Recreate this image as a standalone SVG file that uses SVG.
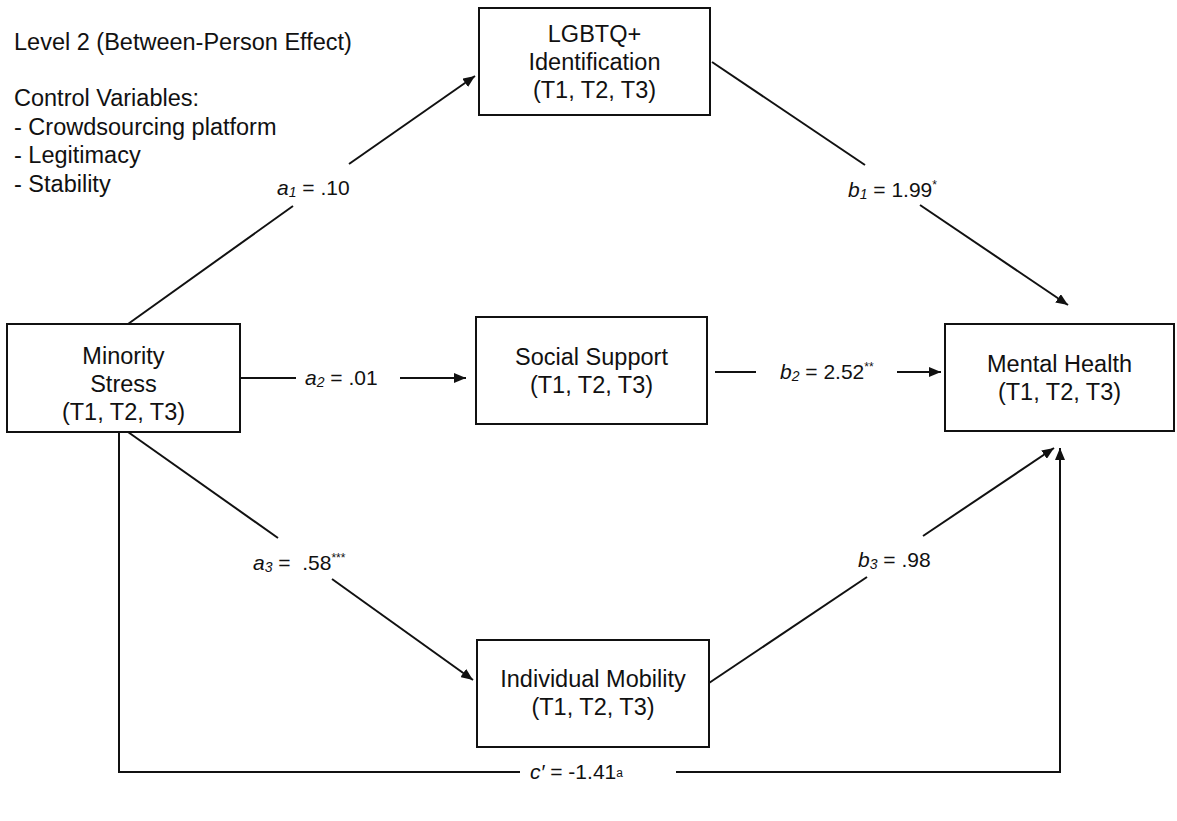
<svg xmlns="http://www.w3.org/2000/svg" width="1177" height="821" viewBox="0 0 1177 821">
  <style>
    .box { fill: #ffffff; stroke: #111111; stroke-width: 2; }
    .node { font-family: "Liberation Sans", Arial, Helvetica, sans-serif; font-size: 23.5px; fill: #111111; text-anchor: middle; }
    .note { font-family: "Liberation Sans", Arial, Helvetica, sans-serif; font-size: 23.5px; fill: #111111; }
    .lbl { font-family: "Liberation Sans", Arial, Helvetica, sans-serif; font-size: 21px; fill: #111111; }
    .it { font-style: italic; }
    .sub { font-style: italic; font-size: 14px; }
    .sup { font-size: 12px; }
    .edge { fill: none; stroke: #111111; stroke-width: 2; }
  </style>
  <defs>
    <marker id="arrow" viewBox="0 0 12 10" refX="12" refY="5" markerWidth="12" markerHeight="10" markerUnits="userSpaceOnUse" orient="auto">
      <path d="M0,0 L12,5 L0,10 z" fill="#111111"/>
    </marker>
  </defs>

  <rect width="1177" height="821" fill="#ffffff"/>

  <!-- Model notes -->
  <g id="notes">
    <text class="note" x="14" y="50">Level 2 (Between-Person Effect)</text>
    <text class="note" x="14" y="106">Control Variables:</text>
    <text class="note" x="14" y="135">- Crowdsourcing platform</text>
    <text class="note" x="14" y="163">- Legitimacy</text>
    <text class="note" x="14" y="192">- Stability</text>
  </g>

  <!-- Paths with coefficients -->
  <g id="connectors">
    <!-- a1: Minority Stress -> LGBTQ+ Identification -->
    <line class="edge" x1="128" y1="324" x2="293" y2="206"/>
    <line class="edge" x1="349" y1="164" x2="475" y2="76" marker-end="url(#arrow)"/>
    <text class="lbl" x="277" y="195"><tspan class="it">a</tspan><tspan class="sub" dy="2">1</tspan><tspan dy="-2"> = .10</tspan></text>

    <!-- b1: LGBTQ+ Identification -> Mental Health -->
    <line class="edge" x1="712" y1="62" x2="865" y2="165"/>
    <line class="edge" x1="920" y1="205" x2="1068" y2="305" marker-end="url(#arrow)"/>
    <text class="lbl" x="848" y="197"><tspan class="it">b</tspan><tspan class="sub" dy="2">1</tspan><tspan dy="-2"> = 1.99</tspan><tspan class="sup" dy="-8">*</tspan></text>

    <!-- a2: Minority Stress -> Social Support -->
    <line class="edge" x1="240" y1="378" x2="296" y2="378"/>
    <line class="edge" x1="400" y1="378" x2="466" y2="378" marker-end="url(#arrow)"/>
    <text class="lbl" x="305" y="385"><tspan class="it">a</tspan><tspan class="sub" dy="2">2</tspan><tspan dy="-2"> = .01</tspan></text>

    <!-- b2: Social Support -> Mental Health -->
    <line class="edge" x1="715" y1="372" x2="756" y2="372"/>
    <line class="edge" x1="897" y1="372" x2="941" y2="372" marker-end="url(#arrow)"/>
    <text class="lbl" x="780" y="379"><tspan class="it">b</tspan><tspan class="sub" dy="2">2</tspan><tspan dy="-2"> = 2.52</tspan><tspan class="sup" dy="-8">**</tspan></text>

    <!-- a3: Minority Stress -> Individual Mobility -->
    <line class="edge" x1="128" y1="432" x2="278" y2="538"/>
    <line class="edge" x1="332" y1="579" x2="473" y2="680" marker-end="url(#arrow)"/>
    <text class="lbl" x="253" y="570"><tspan class="it">a</tspan><tspan class="sub" dy="2">3</tspan><tspan dy="-2"> = &#160;.58</tspan><tspan class="sup" dy="-8">***</tspan></text>

    <!-- b3: Individual Mobility -> Mental Health -->
    <line class="edge" x1="709" y1="683" x2="867" y2="577"/>
    <line class="edge" x1="923" y1="536" x2="1054" y2="448" marker-end="url(#arrow)"/>
    <text class="lbl" x="858" y="567"><tspan class="it">b</tspan><tspan class="sub" dy="2">3</tspan><tspan dy="-2"> = .98</tspan></text>

    <!-- c': direct effect -->
    <polyline class="edge" points="119,432 119,772 520,772"/>
    <polyline class="edge" points="676,772 1060,772 1060,448" marker-end="url(#arrow)"/>
    <text class="lbl" x="530" y="779"><tspan class="it">c′</tspan><tspan> = -1.41</tspan><tspan class="sup" font-size="14" dy="-2">a</tspan></text>
  </g>

  <!-- Nodes -->
  <g id="lgbtq">
    <rect class="box" x="479" y="8" width="231" height="107"/>
    <text class="node" x="594.5" y="42">LGBTQ+</text>
    <text class="node" x="594.5" y="70">Identification</text>
    <text class="node" x="594.5" y="98">(T1, T2, T3)</text>
  </g>

  <g id="minority-stress">
    <rect class="box" x="7" y="324" width="233" height="108"/>
    <text class="node" x="123.5" y="364">Minority</text>
    <text class="node" x="123.5" y="392">Stress</text>
    <text class="node" x="123.5" y="420">(T1, T2, T3)</text>
  </g>

  <g id="social-support">
    <rect class="box" x="476" y="317" width="231" height="107"/>
    <text class="node" x="591.5" y="365">Social Support</text>
    <text class="node" x="591.5" y="393">(T1, T2, T3)</text>
  </g>

  <g id="mental-health">
    <rect class="box" x="945" y="324" width="229" height="107"/>
    <text class="node" x="1059.5" y="372">Mental Health</text>
    <text class="node" x="1059.5" y="400">(T1, T2, T3)</text>
  </g>

  <g id="individual-mobility">
    <rect class="box" x="477" y="640" width="232" height="107"/>
    <text class="node" x="593" y="687">Individual Mobility</text>
    <text class="node" x="593" y="715">(T1, T2, T3)</text>
  </g>
</svg>
